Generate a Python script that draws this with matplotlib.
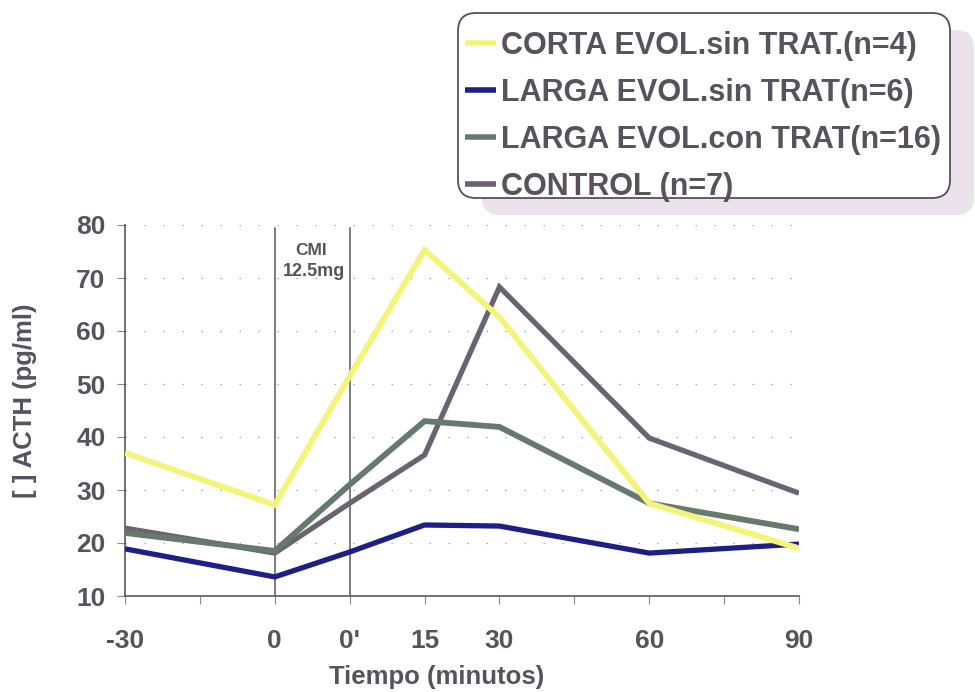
import matplotlib
matplotlib.use("Agg")
import matplotlib.pyplot as plt
from matplotlib.patches import FancyBboxPatch
from matplotlib.transforms import IdentityTransform

plt.rcParams['font.family'] = ['Liberation Sans', 'DejaVu Sans']

# ---- data ----
tick_labels = ['-30', '0', "0'", '15', '30', '60', '90']
# axis slots (units of 15 min, with an extra slot for 0')
x_slots = [-2, 0, 1, 2, 3, 5, 7]
minor_slots = [-1, 4, 6]

series_names = ['CORTA EVOL.sin TRAT.(n=4)',
                'LARGA EVOL.sin TRAT(n=6)',
                'LARGA EVOL.con TRAT(n=16)',
                'CONTROL (n=7)']
corta_sin = [37.0, 27.2, 51.5, 75.3, 62.6, 27.5, 19.0]
larga_sin = [18.9, 13.6, 18.3, 23.4, 23.2, 18.1, 19.8]
larga_con = [21.9, 18.5, 31.0, 43.0, 41.9, 27.5, 22.6]
control = [22.8, 18.1, 27.5, 36.6, 68.3, 39.8, 29.4]

colors = ['#f4f47a', '#1c1f86', '#657a6c', '#6a6472']
zorders = [6, 3, 5, 4]
widths = [4.2, 3.8, 4.2, 3.8]

TXT = '#57525c'
W, H = 975, 692

fig = plt.figure(figsize=(9.75, 6.92), dpi=100)
ax = fig.add_axes([125/W, 1-596/H, (799-125)/W, (596-225)/H])
ax.set_facecolor('none')

for name, vals, c, z, w in zip(series_names, [corta_sin, larga_sin, larga_con, control],
                               colors, zorders, widths):
    ax.plot(x_slots, vals, color=c, lw=w, zorder=z, label=name,
            solid_joinstyle='miter', solid_capstyle='butt')

ax.set_xlim(-2, 7)
ax.set_ylim(10, 80)

# dotted gridlines
for yv in range(20, 90, 10):
    ax.axhline(yv, color='#a9a4ad', lw=0.9, ls=(0, (1.2, 14)), zorder=1)

# CMI markers
for xv in [0, 1]:
    ax.plot([xv, xv], [10, 79.5], color='#5a5660', lw=1.1, zorder=2)
ax.text(0.48, 75.2, 'CMI', ha='center', va='center', fontsize=12.5, color=TXT,
        fontweight='semibold')
ax.text(0.53, 71.2, '12.5mg', ha='center', va='center', fontsize=13, color=TXT,
        fontweight='semibold')

for s in ['top', 'right']:
    ax.spines[s].set_visible(False)
for s in ['left', 'bottom']:
    ax.spines[s].set_color('#5a5660')
    ax.spines[s].set_linewidth(1.2)

ax.set_xticks(x_slots)
ax.set_xticklabels(tick_labels)
ax.set_xticks(minor_slots, minor=True)
ax.set_yticks(range(10, 90, 10))
ax.tick_params(axis='both', which='both', direction='out', length=6, width=0.8,
               colors='#8a8590', labelcolor=TXT)
ax.tick_params(axis='x', labelsize=19, pad=18)
ax.tick_params(axis='y', labelsize=19, pad=8)
for lab in ax.get_xticklabels() + ax.get_yticklabels():
    lab.set_fontweight('bold')

fig.text(437/W, 1-677/H, 'Tiempo (minutos)', ha='center', va='center',
         fontsize=18.5, fontweight='bold', color=TXT)
fig.text(25/W, 1-401/H, '[ ] ACTH (pg/ml)', ha='center', va='center',
         rotation=90, fontsize=18.5, fontweight='bold', color=TXT)

# legend frame + shadow (pixel coordinates)
frame = FancyBboxPatch((458, H-198), 492, 185,
                       boxstyle='round,pad=0,rounding_size=18',
                       transform=IdentityTransform(), facecolor='white',
                       edgecolor='#555058', linewidth=1.3, zorder=8)
shadow = FancyBboxPatch((458+24, H-198-17), 492, 185,
                        boxstyle='round,pad=0,rounding_size=18',
                        transform=IdentityTransform(), facecolor='#ebe2eb',
                        edgecolor='none', zorder=7)
fig.add_artist(shadow)
fig.add_artist(frame)

handles, labels = ax.get_legend_handles_labels()
leg = fig.legend(handles, labels, loc='upper left', bbox_to_anchor=(465/W, 1-31/H),
                 bbox_transform=fig.transFigure, fontsize=22, handlelength=1.0,
                 handletextpad=0.17, labelspacing=0.555, borderpad=0,
                 borderaxespad=0, frameon=False)
leg.set_zorder(10)
for t in leg.get_texts():
    t.set_color(TXT)
    t.set_fontweight('bold')
for h in leg.get_lines():
    h.set_linewidth(4)

fig.savefig('out.png', dpi=100)
